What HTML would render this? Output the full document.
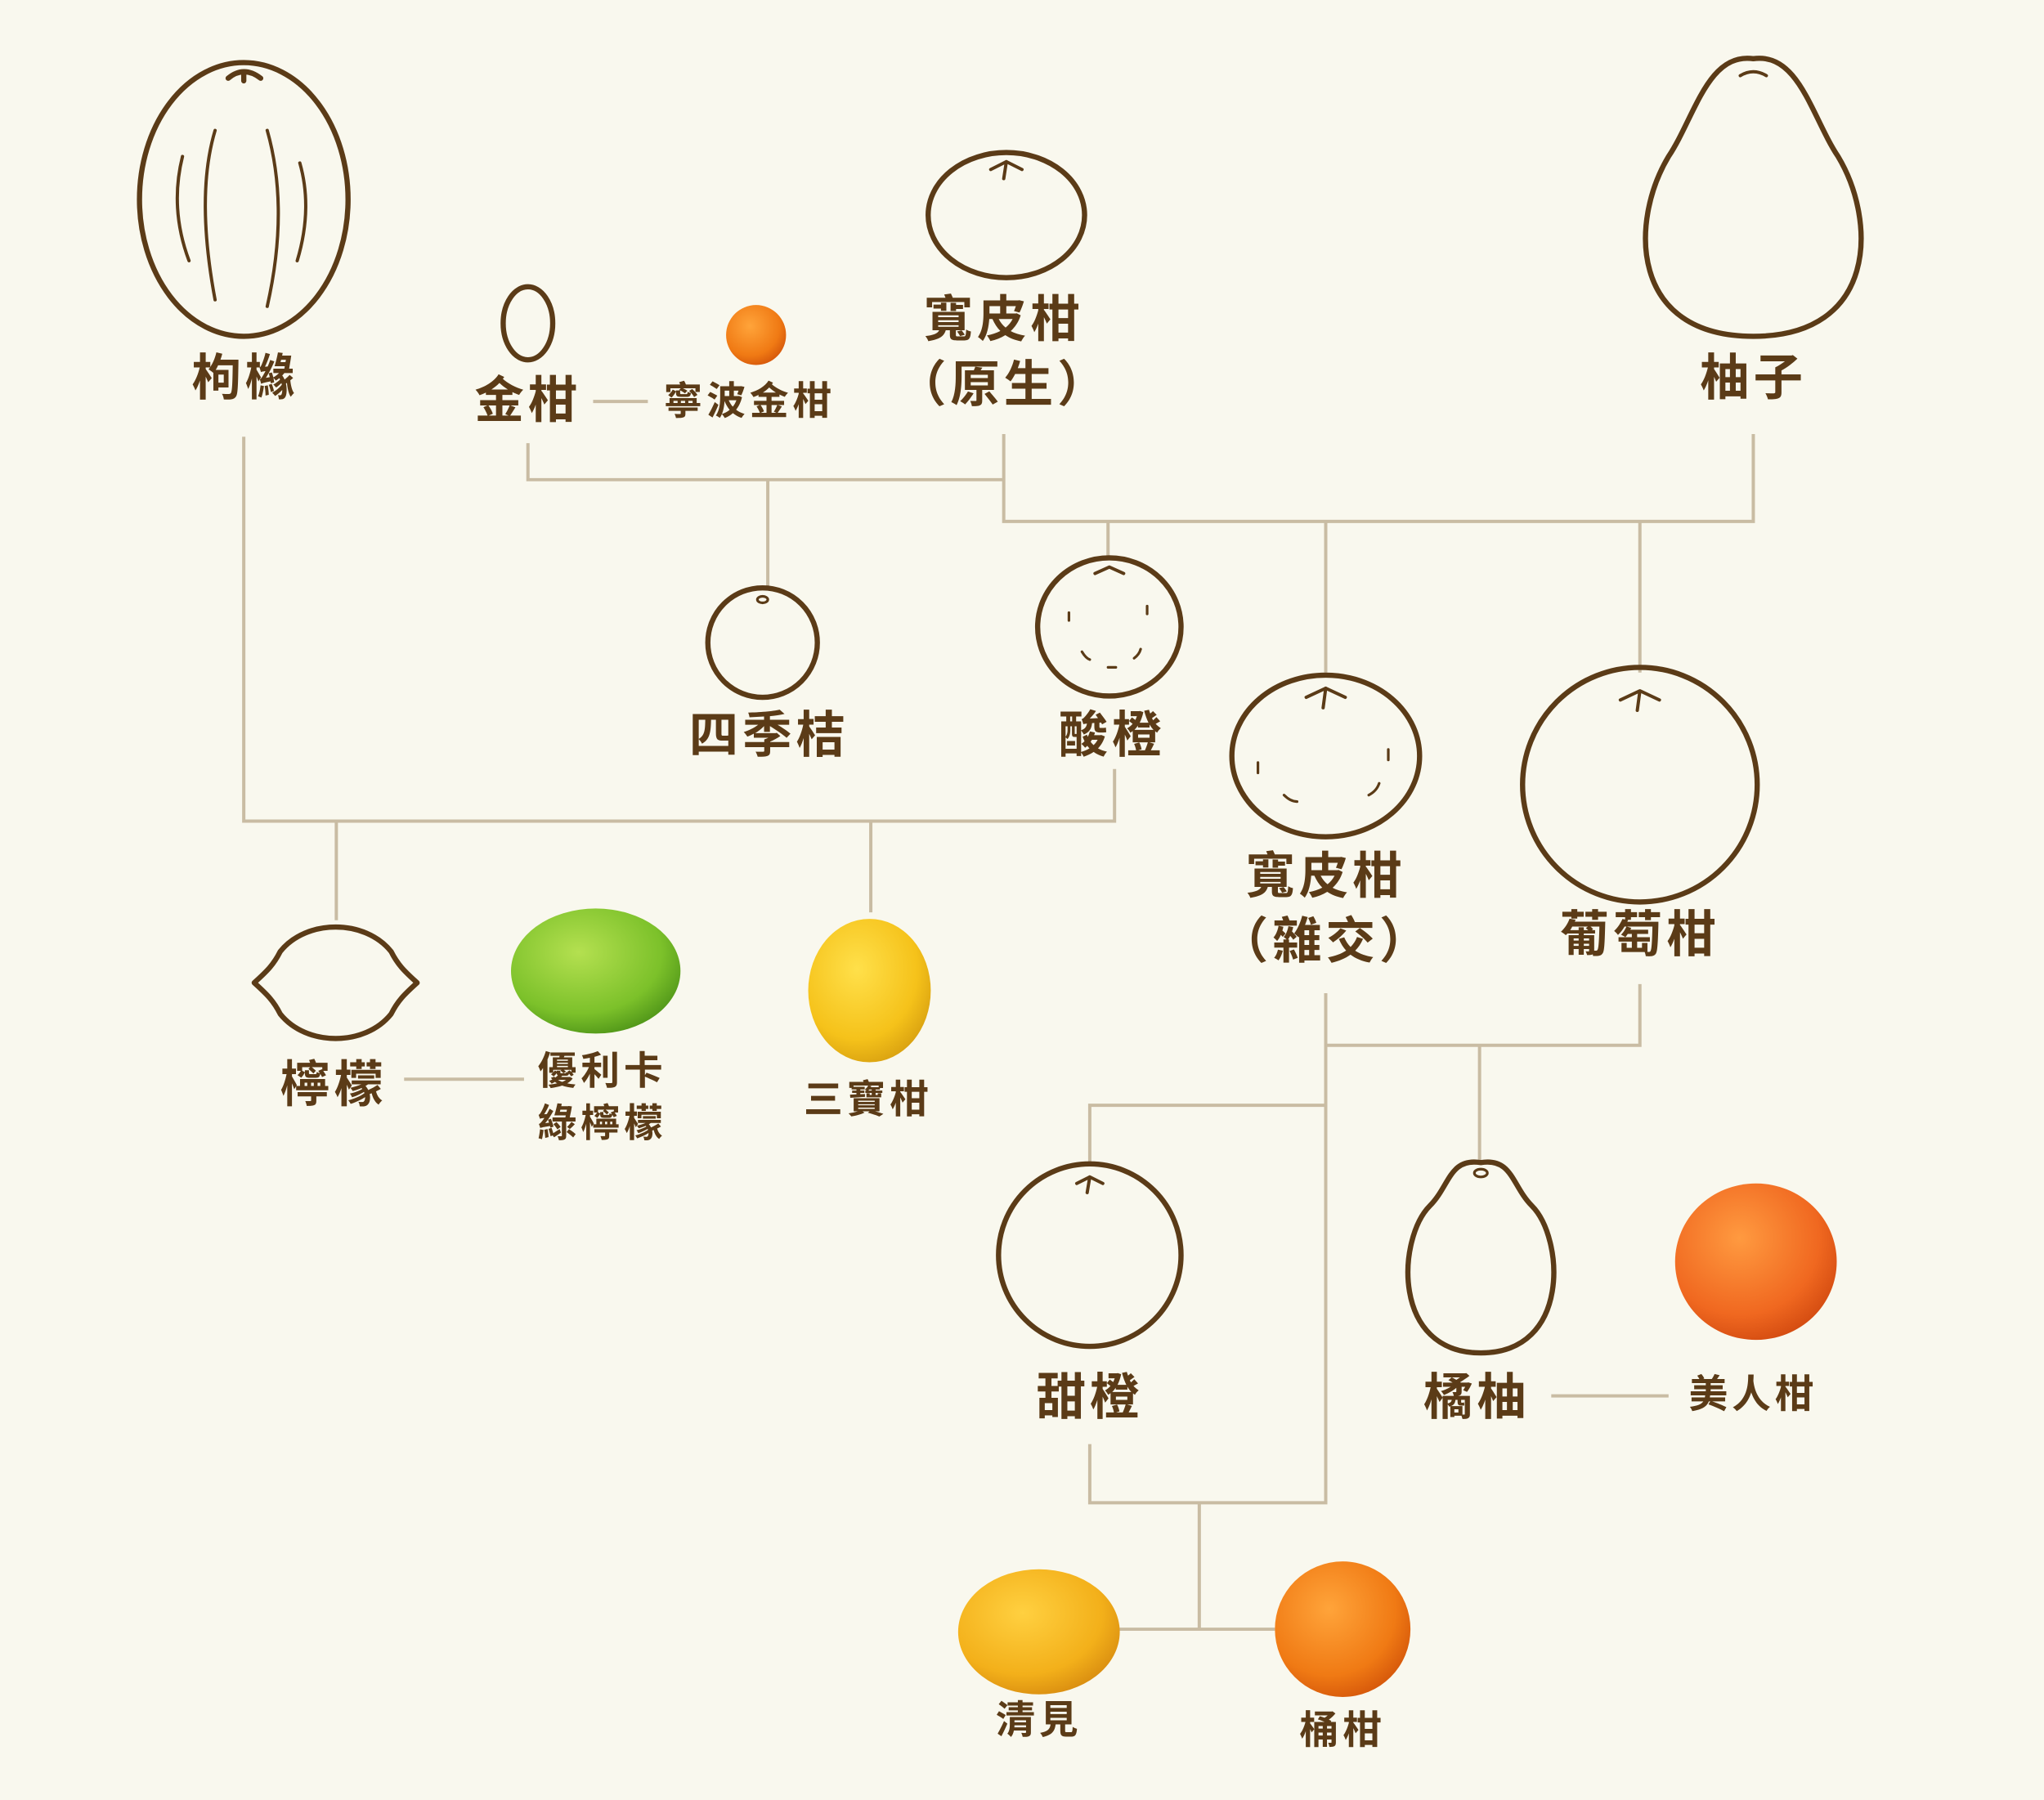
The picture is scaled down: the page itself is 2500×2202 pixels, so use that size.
<!DOCTYPE html>
<html><head><meta charset="utf-8"><style>
html,body{margin:0;padding:0;background:#f9f8ee;}
svg{display:block}
text{font-family:"Liberation Sans","Noto Sans CJK TC",sans-serif;font-weight:700;fill:#5b3b17;text-anchor:middle;dominant-baseline:middle}
.big{font-size:38px;letter-spacing:3px}
.sm{font-size:30px;letter-spacing:3px}
</style></head><body>
<svg width="2500" height="2202" viewBox="0 0 1568 1381" xmlns="http://www.w3.org/2000/svg">
<defs>
<radialGradient id="gOr" cx="40%" cy="35%" r="70%"><stop offset="0" stop-color="#ffa43a"/><stop offset="0.7" stop-color="#f07a14"/><stop offset="1" stop-color="#d4560a"/></radialGradient>
<radialGradient id="gOr2" cx="40%" cy="35%" r="70%"><stop offset="0" stop-color="#ff9a40"/><stop offset="0.7" stop-color="#f06820"/><stop offset="1" stop-color="#d24a10"/></radialGradient>
<radialGradient id="gYe" cx="40%" cy="35%" r="70%"><stop offset="0" stop-color="#ffe04a"/><stop offset="0.7" stop-color="#f5c21a"/><stop offset="1" stop-color="#d8a010"/></radialGradient>
<radialGradient id="gYO" cx="40%" cy="35%" r="70%"><stop offset="0" stop-color="#ffd040"/><stop offset="0.7" stop-color="#f3b01a"/><stop offset="1" stop-color="#d88c10"/></radialGradient>
<radialGradient id="gGr" cx="40%" cy="35%" r="70%"><stop offset="0" stop-color="#b4e050"/><stop offset="0.7" stop-color="#7cc12a"/><stop offset="1" stop-color="#4e9418"/></radialGradient>
</defs>
<rect width="1568" height="1381" fill="#f9f8ee"/>
<g stroke="#c9bca3" stroke-width="2.5" fill="none">
<path d="M187 335V630H855V590"/>
<path d="M405 340V368H770"/>
<path d="M770 333V400H1345V333"/>
<path d="M589 368V452"/>
<path d="M850 400V428"/>
<path d="M1017 400V516"/>
<path d="M1258 400V516"/>
<path d="M258 630V706"/>
<path d="M668 630V700"/>
<path d="M455 308H497"/>
<path d="M310 828H402"/>
<path d="M1017 762V1153H836V1108"/>
<path d="M1258 755V802H1017"/>
<path d="M1135 802V890"/>
<path d="M1017 848H836V893"/>
<path d="M920 1153V1250"/>
<path d="M858 1250H978"/>
<path d="M1190 1071H1280"/>
</g>
<g stroke="#5b3b17" stroke-width="4" fill="none" stroke-linecap="round" stroke-linejoin="round">
<ellipse cx="187" cy="153" rx="80" ry="105"/>
<path d="M175 60 Q187 50 200 60 M187 62 V55"/>
<path d="M165 100 Q150 150 165 230 M205 100 Q222 160 205 235 M140 120 Q130 160 145 200 M230 125 Q240 160 228 200" stroke-width="2.5"/>
<ellipse cx="405" cy="248" rx="19" ry="28"/>
<ellipse cx="772" cy="165" rx="60" ry="48"/>
<path d="M760 130 L772 124 L784 130 M772 124 L770 137" stroke-width="2.5"/>
<path d="M1345 45 C1380 40 1390 90 1410 120 C1440 170 1440 258 1345 258 C1250 258 1250 170 1280 120 C1300 90 1310 40 1345 45Z"/>
<path d="M1335 58 Q1345 52 1355 58" stroke-width="2.5"/>
<circle cx="585" cy="493" r="42"/>
<ellipse cx="585" cy="460" rx="4" ry="2.5" stroke-width="2"/>
<ellipse cx="851" cy="481" rx="55" ry="53"/>
<path d="M840 440 L851 435 L862 440" stroke-width="2.5"/>
<path d="M820 470 v6 M830 500 q3 5 6 6 M870 505 q4 -3 5 -7 M880 465 v6 M850 512 h6" stroke-width="2"/>
<ellipse cx="1017" cy="580" rx="72" ry="62"/>
<path d="M1002 535 L1017 528 L1032 535 M1017 528 L1015 543" stroke-width="2.5"/>
<path d="M965 585 v8 M985 610 q5 5 10 5 M1050 610 q6 -3 8 -9 M1065 575 v8" stroke-width="2"/>
<circle cx="1258" cy="602" r="90"/>
<path d="M1243 537 L1258 530 L1273 537 M1258 530 L1256 545" stroke-width="2.5"/>
<path d="M195 754 C205 745 210 740 215 730 C235 705 280 705 300 730 C305 740 310 745 320 754 C310 763 305 768 300 778 C280 803 235 803 215 778 C210 768 205 763 195 754Z"/>
<circle cx="836" cy="963" r="70"/>
<path d="M826 908 L836 903 L846 908 M836 903 L834 915" stroke-width="2.5"/>
<path d="M1136 892 C1160 888 1160 910 1175 925 C1200 950 1205 1038 1136 1038 C1067 1038 1072 950 1097 925 C1112 910 1112 888 1136 892Z"/>
<ellipse cx="1136" cy="900" rx="5" ry="3" stroke-width="2"/>
</g>
<circle cx="580" cy="257" r="23" fill="url(#gOr)"/>
<ellipse cx="457" cy="745" rx="65" ry="48" fill="url(#gGr)"/>
<ellipse cx="667" cy="760" rx="47" ry="55" fill="url(#gYe)"/>
<ellipse cx="1347" cy="968" rx="62" ry="60" fill="url(#gOr2)"/>
<ellipse cx="797" cy="1252" rx="62" ry="48" fill="url(#gYO)"/>
<circle cx="1030" cy="1250" r="52" fill="url(#gOr)"/>
<text class="big" x="188" y="293">枸櫞</text>
<text class="big" x="405" y="310">金柑</text>
<text class="sm" x="575" y="310">寧波金柑</text>
<text class="big" x="770" y="248">寬皮柑</text>
<text class="big" x="770" y="298">（原生）</text>
<text class="big" x="1345" y="293">柚子</text>
<text class="big" x="590" y="567">四季桔</text>
<text class="big" x="853" y="567">酸橙</text>
<text class="big" x="1017" y="675">寬皮柑</text>
<text class="big" x="1017" y="725">（雜交）</text>
<text class="big" x="1258" y="720">葡萄柑</text>
<text class="big" x="256" y="835">檸檬</text>
<text class="sm" x="462" y="824">優利卡</text>
<text class="sm" x="462" y="864">綠檸檬</text>
<text class="sm" x="666" y="846">三寶柑</text>
<text class="big" x="836" y="1075">甜橙</text>
<text class="big" x="1133" y="1075">橘柚</text>
<text class="sm" x="1345" y="1072">美人柑</text>
<text class="sm" x="797" y="1322">清見</text>
<text class="sm" x="1030" y="1330">桶柑</text>
</svg>
</body></html>
